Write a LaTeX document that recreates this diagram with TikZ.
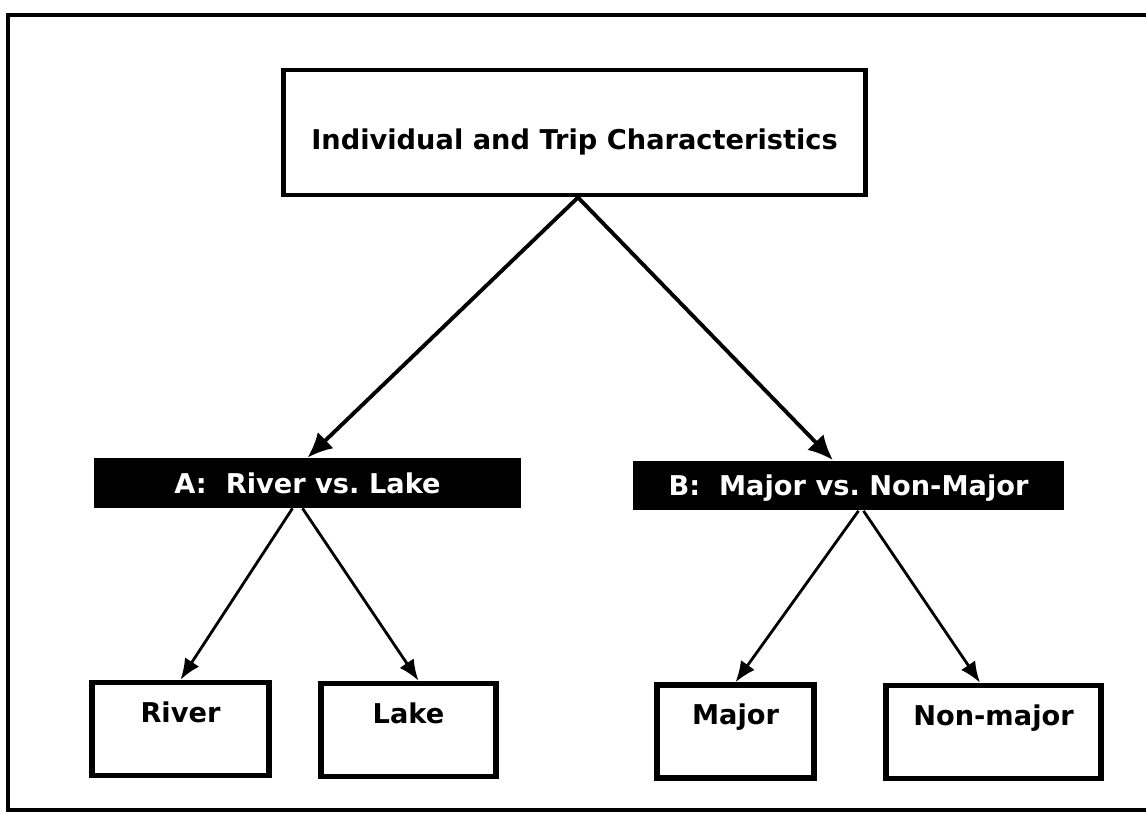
\documentclass[tikz,border=0pt]{standalone}
\usepackage{fontspec}
\setmainfont{DejaVu Sans}
\usetikzlibrary{arrows.meta}

\begin{document}
\begin{tikzpicture}[x=0.02cm, y=-0.02cm,
        every node/.style={font=\fontsize{15.5}{18}\selectfont\bfseries},
        topbox/.style={draw, line width=2.8pt, minimum width=11.66cm, minimum height=2.5cm, text height=0.7cm, text depth=0pt},
        bar/.style={fill=black, text=white, minimum height=1cm, text height=0.4cm, text depth=0pt},
        leaf/.style={draw, line width=3.2pt, minimum height=1.86cm, text height=0.4cm, text depth=0.68cm},
        bigarrow/.style={line width=2.2pt, -{Latex[length=0.5cm, width=0.45cm]}},
        smallarrow/.style={line width=1.6pt, -{Latex[length=0.42cm, width=0.34cm]}}]
        \useasboundingbox (0,0) rectangle (1146,814);
        \draw[line width=2.8pt] (8,15) rectangle (1160,810);
        \node[topbox] (top) at (574.5,132.5) {Individual and Trip Characteristics};
        \node[bar, minimum width=8.54cm] (A) at (307.5,483) {A:\ \ River vs.\ Lake};
        \node[bar, minimum width=8.62cm] (B) at (848.5,485.5) {B:\ \ Major vs.\ Non-Major};
        \node[leaf, minimum width=3.54cm] (river) at (180.5,729) {River};
        \node[leaf, minimum width=3.5cm] (lake) at (408.5,730) {Lake};
        \node[leaf, minimum width=3.14cm] (major) at (735.5,731.5) {Major};
        \node[leaf, minimum width=4.3cm] (nonmajor) at (993.5,732) {Non-major};
        % arrows
        \draw[bigarrow] ([xshift=0.07cm]top.south) -- (A.north);
        \draw[bigarrow] ([xshift=0.07cm]top.south) -- ([xshift=-0.31cm]B.north);
        \draw[smallarrow] ([xshift=-0.3cm]A.south) -- (river.north);
        \draw[smallarrow] ([xshift=-0.1cm]A.south) -- ([xshift=0.2cm]lake.north);
        \draw[smallarrow] ([xshift=0.2cm]B.south) -- (major.north);
        \draw[smallarrow] ([xshift=0.3cm]B.south) -- ([xshift=-0.27cm]nonmajor.north);
\end{tikzpicture}
\end{document}
